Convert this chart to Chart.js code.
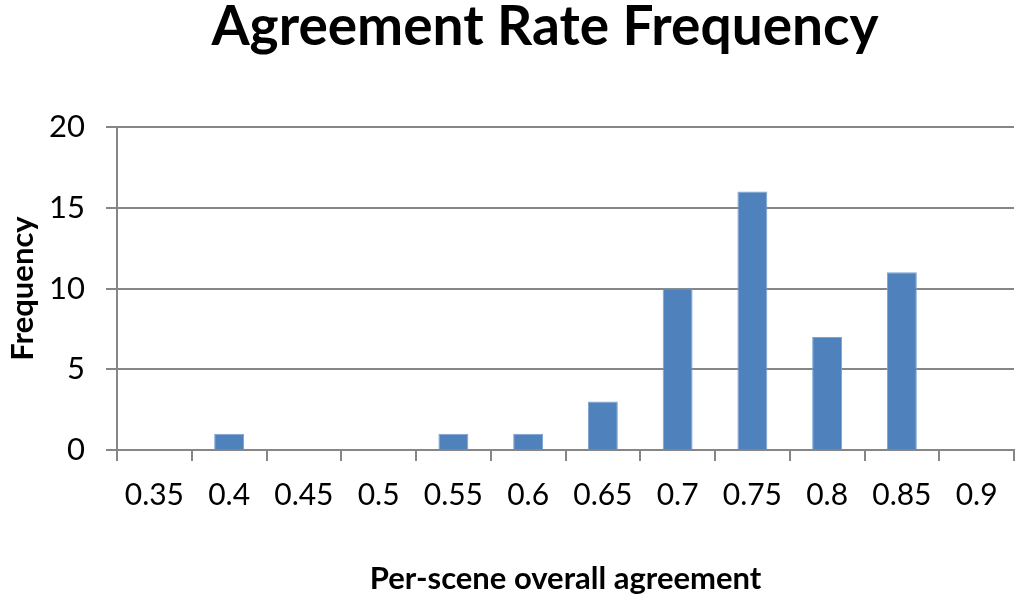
<!DOCTYPE html>
<html>
<head>
<meta charset="utf-8">
<script src="https://cdn.jsdelivr.net/npm/chart.js@4.4.0/dist/chart.umd.min.js"></script>
<style>
  html, body { margin: 0; padding: 0; background: #fff; }
  #wrap { width: 1024px; height: 603px; position: relative; }
</style>
</head>
<body>
<div id="wrap"><canvas id="freqChart"></canvas></div>
<script>
// bins along the x axis
const agreementBins = ['0.35', '0.4', '0.45', '0.5', '0.55', '0.6', '0.65', '0.7', '0.75', '0.8', '0.85', '0.9'];
// how many scenes fall in each bin
const sceneCounts = [0, 1, 0, 0, 1, 1, 3, 10, 16, 7, 11, 0];
const yTicks = [0, 5, 10, 15, 20];

const axisGrey = '#868686';
const fontName = 'Lato, "Open Sans", sans-serif';

// the original title sits a bit right of the canvas centre
const shiftTitle = {
    id: 'shiftTitle',
    afterLayout(chart) {
        if (chart.titleBlock) {
            chart.titleBlock.left += 72;
        }
    }
};

const ctx = document.getElementById('freqChart').getContext('2d');

new Chart(ctx, {
    type: 'bar',
    data: {
        labels: agreementBins,
        datasets: [{
            label: 'Frequency',
            data: sceneCounts,
            backgroundColor: '#4F81BD',
            borderColor: '#7DA2D1',
            borderWidth: 1,
            categoryPercentage: 1.0,
            barPercentage: 0.4
        }]
    },
    plugins: [shiftTitle],
    options: {
        responsive: true,
        maintainAspectRatio: false,
        animation: false,
        layout: {
            padding: { left: 4, right: 10, top: 0, bottom: 0 }
        },
        plugins: {
            legend: { display: false },
            tooltip: { enabled: false },
            title: {
                display: true,
                text: 'Agreement Rate Frequency',
                color: '#000',
                font: { family: fontName, size: 55, weight: 'bold', lineHeight: 1.0 },
                padding: { top: 0, bottom: 72 }
            }
        },
        scales: {
            x: {
                offset: true,
                afterFit: function(axis) {
                    axis.height = 153; // axis line lands at y=450
                },
                grid: {
                    offset: true,
                    drawOnChartArea: false,
                    drawTicks: true,
                    tickLength: 11,
                    color: axisGrey,
                    lineWidth: 2
                },
                border: { display: true, color: axisGrey, width: 2 },
                ticks: {
                    color: '#000',
                    font: { family: fontName, size: 30 },
                    padding: 16,
                    maxRotation: 0,
                    autoSkip: false
                },
                title: {
                    display: true,
                    text: 'Per-scene overall agreement',
                    color: '#000',
                    font: { family: fontName, size: 31, weight: 'bold' },
                    padding: { top: 36, bottom: 5 }
                }
            },
            y: {
                min: 0,
                max: 20,
                afterFit: function(axis) {
                    axis.width = 113; // axis line lands at x=117
                },
                afterBuildTicks: function(axis) {
                    axis.ticks = yTicks.map(v => ({ value: v }));
                },
                grid: {
                    color: axisGrey,
                    lineWidth: 2,
                    drawTicks: true,
                    tickLength: 11
                },
                border: { display: true, color: axisGrey, width: 2 },
                ticks: {
                    color: '#000',
                    font: { family: fontName, size: 31 },
                    padding: 21
                },
                title: {
                    display: true,
                    text: 'Frequency',
                    color: '#000',
                    font: { family: fontName, size: 31, weight: 'bold' },
                    padding: { top: 0, bottom: 8 }
                }
            }
        }
    }
});
</script>
</body>
</html>
